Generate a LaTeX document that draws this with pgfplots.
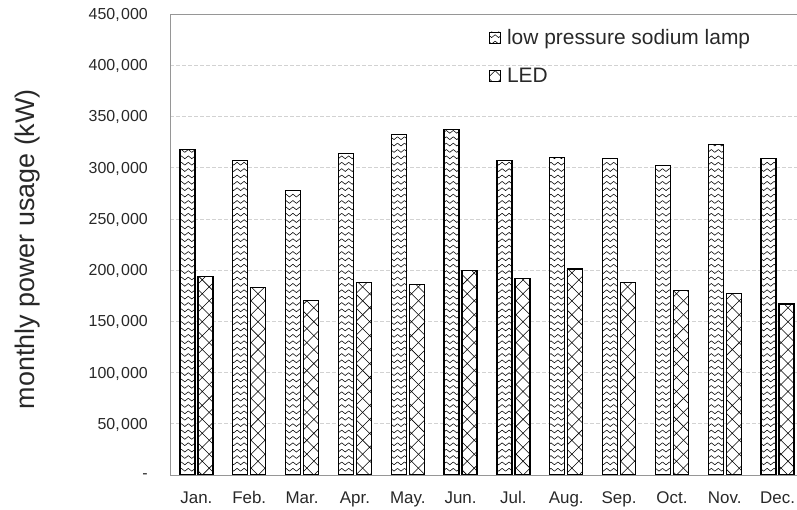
\documentclass[border=0pt]{standalone}
\usepackage{fontspec}
\setmainfont{Liberation Sans}
\usepackage{pgfplots}
\pgfplotsset{compat=1.18}
\usetikzlibrary{patterns}

% vertical stack of zigzags
\pgfdeclarepatternformonly{zigzag}{\pgfqpoint{-1pt}{-1pt}}{\pgfqpoint{8pt}{8pt}}{\pgfqpoint{7pt}{6.4pt}}{
  \pgfsetlinewidth{0.55pt}
  \pgfpathmoveto{\pgfqpoint{0pt}{3.4pt}}
  \pgfpathlineto{\pgfqpoint{3.5pt}{0.6pt}}
  \pgfpathlineto{\pgfqpoint{7pt}{3.4pt}}
  \pgfusepath{stroke}}
% large diagonal cross
\pgfdeclarepatternformonly{bigcross}{\pgfqpoint{-1pt}{-1pt}}{\pgfqpoint{15pt}{15pt}}{\pgfqpoint{14pt}{14pt}}{
  \pgfsetlinewidth{0.55pt}
  \pgfpathmoveto{\pgfqpoint{0pt}{0pt}}
  \pgfpathlineto{\pgfqpoint{14pt}{14pt}}
  \pgfpathmoveto{\pgfqpoint{0pt}{14pt}}
  \pgfpathlineto{\pgfqpoint{14pt}{0pt}}
  \pgfusepath{stroke}}

\definecolor{gridgray}{RGB}{210,210,210}
\definecolor{framegray}{RGB}{150,150,150}
\definecolor{txt}{RGB}{40,40,40}

\begin{document}
\begin{tikzpicture}
\useasboundingbox (0,0) rectangle (797bp,510bp);
\begin{axis}[
  at={(170bp,35bp)}, anchor=south west,
  scale only axis, width=634bp, height=461bp,
  ybar, bar width=15bp,
  legend image code/.code={\draw[#1, line width=0.8bp] (0bp,-5.5bp) rectangle (11bp,5.5bp);
    \node[inner sep=0pt, minimum width=15bp, minimum height=1bp, anchor=west] at (0bp,0bp) {};},
  xmin=-0.5, xmax=11.5, ymin=0, ymax=450000,
  scaled y ticks=false,
  xtick={0,...,11},
  xticklabels={Jan.,Feb.,Mar.,Apr.,May.,Jun.,Jul.,Aug.,Sep.,Oct.,Nov.,Dec.},
  ytick={0,50000,...,450000},
  yticklabels={-,{50,\kern1.5bp000},{100,\kern1.5bp000},{150,\kern1.5bp000},{200,\kern1.5bp000},
    {250,\kern1.5bp000},{300,\kern1.5bp000},{350,\kern1.5bp000},{400,\kern1.5bp000},{450,\kern1.5bp000}},
  major tick length=0pt,
  ymajorgrids,
  grid style={gridgray, dash pattern=on 4bp off 2bp, line width=0.7bp},
  axis line style={framegray, line width=0.9bp},
  tick label style={txt},
  xticklabel style={font=\fontsize{17}{17}\selectfont, yshift=-13bp},
  yticklabel style={font=\fontsize{16}{16}\selectfont, anchor=east, inner sep=1bp, xshift=-21bp, yshift=-1bp},
  ylabel={monthly power usage (kW)},
  ylabel style={font=\fontsize{27}{27}\selectfont, txt, at={(axis description cs:-0.224,0.49)}, anchor=center},
  legend style={at={(axis description cs:0.503,0.972)}, anchor=north west,
    draw=none, fill=none, inner sep=0pt, row sep=18bp,
    font=\fontsize{21}{21}\selectfont, text=txt},
  legend cell align=left,
]
\addplot[draw=black, line width=1.2bp, fill=white, postaction={pattern=zigzag}, bar shift=-9bp]
coordinates {(0,318000) (1,307000) (2,278000) (3,314000) (4,332000) (5,337000)
             (6,307000) (7,310000) (8,309000) (9,302000) (10,323000) (11,309000)};
\addplot[draw=black, line width=1.2bp, fill=white, postaction={pattern=bigcross}, bar shift=9bp]
coordinates {(0,194000) (1,183000) (2,170000) (3,188000) (4,186000) (5,200000)
             (6,192000) (7,201000) (8,188000) (9,180000) (10,177000) (11,167000)};
\legend{low pressure sodium lamp, LED}
\end{axis}
\end{tikzpicture}
\end{document}
